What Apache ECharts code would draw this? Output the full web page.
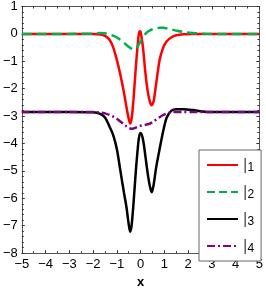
<!DOCTYPE html>
<html><head><meta charset="utf-8">
<script src="https://cdn.jsdelivr.net/npm/echarts@6/dist/echarts.min.js"></script>
<style>html,body{margin:0;padding:0;background:#fff}#c{width:266px;height:294px}</style>
</head><body><div id="c"></div>
<script>
var xs = [-5,-3,-2,-1.7,-1.5,-1.3,-1.15,-1,-0.85,-0.7,-0.6,-0.5,-0.44,-0.38,-0.3,-0.2,-0.1,-0.05,0,0.1,0.2,0.3,0.4,0.47,0.55,0.65,0.8,0.95,1.1,1.3,1.5,1.8,2.2,2.6,3,5];
var s1 = [0,0,0,-0.02,-0.07,-0.22,-0.5,-0.95,-1.5,-2.15,-2.65,-3.1,-3.27,-3.1,-2.4,-1.2,-0.2,0.1,0.08,-0.5,-1.4,-2.1,-2.5,-2.6,-2.45,-1.85,-0.95,-0.5,-0.27,-0.12,-0.05,-0.01,0,0,0,0];
var s2 = [0,0,0.01,0.03,0.02,-0.02,-0.07,-0.13,-0.22,-0.32,-0.4,-0.47,-0.51,-0.54,-0.56,-0.53,-0.42,-0.35,-0.27,-0.12,0.0,0.08,0.13,0.16,0.18,0.2,0.22,0.22,0.2,0.16,0.12,0.07,0.03,0.01,0,0];
var s3 = [-2.85,-2.85,-2.86,-2.92,-3.05,-3.4,-3.7,-4.2,-5.0,-5.8,-6.3,-6.95,-7.22,-7.0,-6.2,-5.0,-4.0,-3.7,-3.62,-3.85,-4.45,-5.1,-5.6,-5.78,-5.5,-4.9,-4.2,-3.55,-3.05,-2.8,-2.75,-2.75,-2.78,-2.83,-2.85,-2.85];
var s4 = [-2.85,-2.85,-2.85,-2.87,-2.9,-2.96,-3.02,-3.1,-3.2,-3.3,-3.37,-3.43,-3.45,-3.46,-3.45,-3.42,-3.38,-3.36,-3.35,-3.33,-3.32,-3.3,-3.27,-3.24,-3.2,-3.13,-3.04,-2.96,-2.9,-2.86,-2.85,-2.85,-2.85,-2.85,-2.85,-2.85];
var names = ['1','2','3','4'];
var colors = ['#ff0000','#00b050','#000000','#800080'];
var dashes = ['solid','dashed','solid',[8,3,2,3]];
var series = [s1,s2,s3,s4];

function pairs(ys){ return xs.map(function(x,i){return [x,ys[i]];}); }
var minus = function(v){ return String(v).replace('-', '\u2212'); };
var font = 'Liberation Sans, Arial, sans-serif';
var axisCommon = function(extra){
  return Object.assign({
    axisLine:{show:true,onZero:false,lineStyle:{color:'#555',width:1}},
    axisTick:{show:true,inside:true,length:3,lineStyle:{color:'#333'}},
    splitLine:{show:false}
  }, extra);
};
var xMinor = {show:true,splitNumber:2,length:2,lineStyle:{color:'#333'}};
var yMinor = {show:true,splitNumber:5,length:2,lineStyle:{color:'#333'}};
var chart = echarts.init(document.getElementById('c'), null, {renderer:'canvas'});
chart.setOption({
  animation:false,
  grid:{left:21,right:5,top:5,bottom:34,show:false},
  xAxis:[
    axisCommon({type:'value',min:-5,max:5,interval:1,position:'bottom',minorTick:xMinor,
      axisLabel:{color:'#000',fontSize:13,fontFamily:font,margin:5,formatter:minus,showMaxLabel:true},
      name:'x',nameLocation:'middle',nameGap:21,nameTextStyle:{color:'#000',fontSize:13,fontWeight:'bold',fontFamily:font}}),
    axisCommon({type:'value',min:-5,max:5,interval:1,position:'top',minorTick:xMinor,axisLabel:{show:false}})
  ],
  yAxis:[
    axisCommon({type:'value',min:-8,max:1,interval:1,position:'left',minorTick:yMinor,
      axisLabel:{color:'#000',fontSize:13,fontFamily:font,margin:4,formatter:minus}}),
    axisCommon({type:'value',min:-8,max:1,interval:1,position:'right',minorTick:yMinor,axisLabel:{show:false}})
  ],
  legend:{
    left:199, top:150, orient:'vertical',
    backgroundColor:'#fff', borderColor:'#666', borderWidth:1,
    padding:[6,7,6,7], itemWidth:31, itemHeight:16, itemGap:9, itemTextGap:5,
    itemStyle:{opacity:0},
    data:names,
    formatter:function(n){ return '{a||}{b|'+n+'}'; },
    textStyle:{rich:{
      a:{fontSize:17,lineHeight:16,color:'#555',fontFamily:font},
      b:{fontSize:12,lineHeight:10,color:'#000',fontFamily:font,padding:[6,0,0,0]}
    }}
  },
  series: series.map(function(s,i){
    return {name:names[i],type:'line',data:pairs(s),smooth:0.3,showSymbol:false,symbol:'none',
      xAxisIndex:0,yAxisIndex:0,
      itemStyle:{color:colors[i]},
      lineStyle:{color:colors[i],width:2.5,type:dashes[i]}};
  })
});
</script></body></html>
